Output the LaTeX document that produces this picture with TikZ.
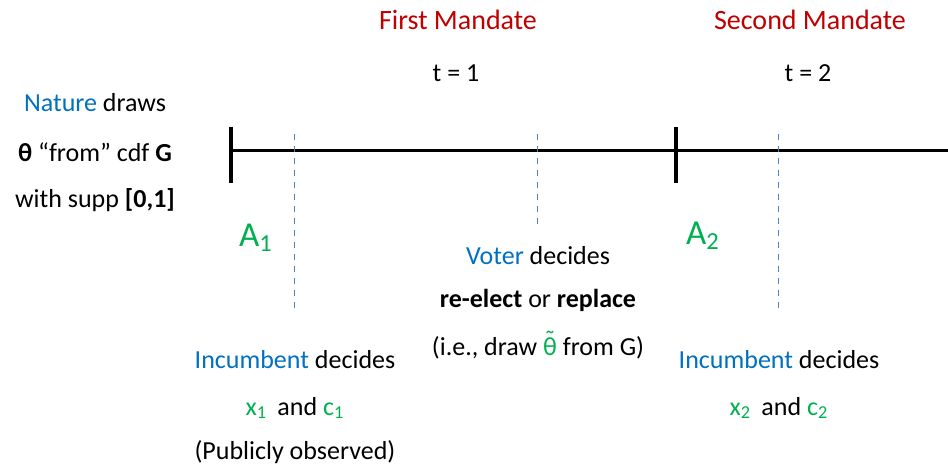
\documentclass[tikz,border=0pt]{standalone}
\usepackage{fontspec}
\setmainfont{Carlito}
\definecolor{mred}{HTML}{C00000}
\definecolor{mblue}{HTML}{0070C0}
\definecolor{mgreen}{HTML}{00B050}
\definecolor{dashblue}{HTML}{4F81BD}
\newcommand{\tildetheta}{\ooalign{θ\cr\hidewidth\raisebox{0.62ex}{\char"02DC}\hidewidth\cr}}
\begin{document}
\begin{tikzpicture}[x=0.5pt,y=-0.5pt,
  txt/.style={inner sep=0pt,font=\fontsize{13}{15}\selectfont},
  head/.style={inner sep=0pt,text=mred,font=\fontsize{14}{16}\selectfont},
  alab/.style={inner sep=0pt,text=mgreen,font=\fontsize{17.5}{20}\selectfont},
  tick/.style={line width=1.6pt},
  mark line/.style={dashblue,dashed,line width=0.4pt}]
\useasboundingbox (0,0) rectangle (948,470);
% time line
\coordinate (start) at (231,151);
\coordinate (end) at (948,151);
\draw[line width=1.5pt] (start) -- (end);
\coordinate (t1a) at (231,127); \coordinate (t1b) at (231,183);
\coordinate (t2a) at (676,127); \coordinate (t2b) at (676,183);
\draw[tick] (t1a) -- (t1b);
\draw[tick] (t2a) -- (t2b);
% dashed markers
\coordinate (d1a) at (294,134); \coordinate (d1b) at (294,310);
\coordinate (d2a) at (537,134); \coordinate (d2b) at (537,228);
\coordinate (d3a) at (778,134); \coordinate (d3b) at (778,310);
\draw[mark line] (d1a) -- (d1b);
\draw[mark line] (d2a) -- (d2b);
\draw[mark line] (d3a) -- (d3b);
% headings
\node[head] (fm) at (458,20) {First Mandate};
\node[head] (sm) at (810,20) {Second Mandate};
\node[txt] (t1) at (456,73) {t = 1};
\node[txt] (t2) at (808,73) {t = 2};
% nature
\node[txt] (n1) at (95,103) {\textcolor{mblue}{Nature} draws};
\node[txt] (n2) at (95,152) {\textbf{θ} “from” cdf \textbf{G}};
\node[txt] (n3) at (95,200) {with supp \textbf{[0,1]}};
% A labels
\node[alab] (a1) at (256,238) {A\textsubscript{1}};
\node[alab] (a2) at (703,236) {A\textsubscript{2}};
% voter
\node[txt] (v1) at (538,256) {\textcolor{mblue}{Voter} decides};
\node[txt] (v2) at (538,300) {\textbf{re-elect} or \textbf{replace}};
\node[txt] (v3) at (538,348) {(i.e., draw \textcolor{mgreen}{\tildetheta} from G)};
% incumbent 1
\node[txt] (i1) at (295,360) {\textcolor{mblue}{Incumbent} decides};
\node[txt] (i2) at (295,408) {\textcolor{mgreen}{x\textsubscript{1}}\, and \textcolor{mgreen}{c\textsubscript{1}}};
\node[txt] (i3) at (295,452) {(Publicly observed)};
% incumbent 2
\node[txt] (j1) at (779,360) {\textcolor{mblue}{Incumbent} decides};
\node[txt] (j2) at (779,408) {\textcolor{mgreen}{x\textsubscript{2}}\, and \textcolor{mgreen}{c\textsubscript{2}}};
\end{tikzpicture}
\end{document}
